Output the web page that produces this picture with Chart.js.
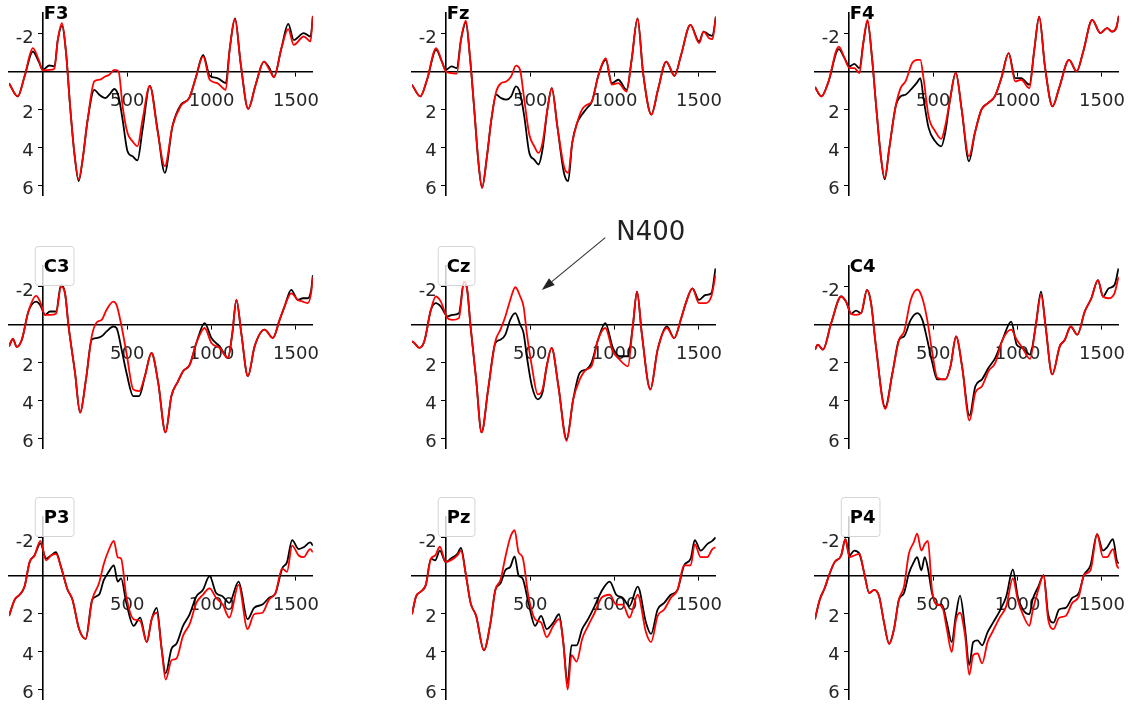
<!DOCTYPE html>
<html>
<head>
<meta charset="utf-8">
<script src="https://cdn.jsdelivr.net/npm/chart.js@4/dist/chart.umd.min.js"></script>
<style>
  html, body { margin: 0; padding: 0; background: #fff; }
  body { width: 1138px; height: 706px; overflow: hidden; position: relative; }
  canvas { position: absolute; }
</style>
</head>
<body>
<script>
// ERP averages, time in ms, amplitude in microvolts (negative up)
const F3_t = [-200,-148,-108,-59,-24,0,39,69,89,114,138,162,187,213,236,266,305,335,370,394,424,449,473,502,532,561,591,634,680,723,768,818,867,906,950,989,1034,1084,1107,1139,1172,1217,1261,1310,1343,1369,1414,1454,1487,1546,1586,1600];
const F3_black = [0.6,1.3,0.25,-1.07,-0.54,-0.1,-0.33,-0.28,-1.68,-2.42,-1.0,1.82,4.28,5.77,4.63,2.53,0.95,1.21,1.39,1.21,0.91,1.3,2.53,4.19,4.46,4.67,3.05,0.74,3.05,5.33,2.88,1.74,1.39,0.33,-0.89,0.21,0.33,0.6,-1.16,-2.82,-0.46,1.96,0.68,-0.54,-0.19,0.28,-1.25,-2.53,-1.68,-2.04,-1.86,-2.91];
const F3_red = [0.6,1.3,0.25,-1.25,-0.63,-0.07,-0.1,-0.16,-1.68,-2.56,-1.0,1.82,4.28,5.68,4.63,2.53,0.51,0.42,0.25,0.16,-0.1,-0.02,1.82,3.23,3.67,3.93,2.53,0.74,3.14,4.98,2.88,1.79,1.39,0.33,-0.81,0.42,0.6,0.95,-1.16,-2.77,-0.46,1.96,0.68,-0.54,-0.1,0.28,-1.25,-2.25,-1.42,-1.86,-1.6,-2.95];

const Fz_t = [-200,-151,-111,-57,-23,0,35,65,90,119,143,172,192,215,244,270,299,328,358,387,416,440,465,495,524,549,573,602,628,661,700,725,749,778,807,837,866,905,948,983,1022,1071,1101,1136,1169,1218,1257,1306,1355,1394,1449,1501,1527,1560,1580,1600];
const Fz_black = [0.68,1.3,0.42,-1.16,-0.54,-0.1,-0.28,-0.19,-1.68,-2.6,-0.81,2.35,4.63,6.12,4.46,2.53,1.21,1.39,1.47,1.3,0.77,1.12,2.35,4.28,4.63,4.89,4.1,2.0,0.86,2.88,5.33,5.77,3.75,2.7,2.26,1.91,1.56,0.16,-0.63,0.6,0.42,0.95,-0.63,-2.82,0.07,2.26,0.95,-0.54,0.21,-0.89,-2.47,-1.6,-2.12,-1.95,-1.9,-2.91];
const Fz_red = [0.68,1.3,0.42,-1.25,-0.54,-0.02,0.07,0.1,-1.68,-2.7,-0.81,2.35,4.63,6.12,4.46,2.53,1.04,0.6,0.51,0.25,-0.32,-0.1,1.47,3.32,3.93,4.28,3.75,2.0,0.86,2.88,4.98,5.33,3.75,2.7,2.0,1.74,1.56,0.16,-0.72,0.68,0.6,1.04,-0.63,-2.82,0.07,2.26,0.95,-0.54,0.21,-0.89,-2.47,-1.51,-2.12,-1.77,-1.72,-2.91];

const F4_t = [-200,-162,-123,-59,-25,4,33,63,86,111,137,164,190,213,239,278,307,336,376,405,424,444,473,512,548,571,600,634,669,712,747,786,825,865,904,947,986,1021,1070,1099,1128,1162,1207,1246,1305,1350,1389,1442,1490,1530,1559,1584,1600];
const F4_black = [0.8,1.3,0.6,-1.19,-0.72,-0.28,-0.42,-0.19,-1.51,-2.65,-0.81,2.0,4.46,5.68,4.1,1.82,1.3,1.21,0.86,0.56,0.33,1.47,2.96,3.67,3.93,3.23,1.47,0.04,2.0,4.72,3.23,2.0,1.65,1.3,0.33,-0.98,0.33,0.33,0.68,-1.16,-2.91,-0.28,1.82,0.86,-0.63,-0.02,-1.07,-2.74,-2.04,-2.3,-2.12,-2.3,-2.95];
const F4_red = [0.8,1.3,0.6,-1.33,-0.72,-0.19,-0.19,0.07,-1.51,-2.74,-0.81,2.0,4.46,5.6,4.1,1.82,0.86,0.51,-0.46,-0.63,-0.63,0.42,2.35,3.14,3.54,2.88,1.47,0.04,2.0,4.46,3.23,2.0,1.65,1.3,0.33,-0.98,0.51,0.42,0.86,-1.16,-2.91,-0.28,1.82,0.86,-0.63,-0.02,-1.07,-2.74,-2.04,-2.3,-2.12,-2.3,-2.95];

const C3_t = [-200,-177,-154,-124,-85,-39,-16,14,43,79,108,132,152,191,221,256,290,319,349,378,418,437,467,496,536,571,605,644,684,727,762,802,831,871,910,959,999,1048,1097,1123,1147,1176,1215,1255,1314,1363,1403,1432,1472,1511,1541,1570,1590,1600];
const C3_black = [1.14,0.75,1.17,0.79,-0.7,-1.22,-1.05,-0.52,-0.7,-0.7,-2.1,-1.66,0,2.53,4.63,2.88,0.79,0.7,0.61,0.35,0.09,0.17,1.31,2.53,3.76,3.76,2.71,1.49,3.06,5.68,3.76,2.97,2.45,2.1,0.96,-0.09,0.7,1.14,1.75,0.44,-1.31,0.44,2.71,1.14,0.26,0.7,-0.26,-0.96,-1.84,-1.31,-1.4,-1.4,-1.84,-2.62];
const C3_red = [1.14,0.75,1.17,0.79,-0.7,-1.52,-1.22,-0.52,-0.52,-0.58,-2.0,-1.66,0,2.53,4.63,2.88,0.61,-0.12,-0.26,-0.79,-1.22,-1.05,0.09,1.49,3.41,3.5,2.71,1.49,3.06,5.68,3.76,2.97,2.45,2.1,0.96,0.17,0.96,1.22,1.75,0.44,-1.31,0.44,2.71,1.14,0.26,0.7,-0.26,-0.96,-1.66,-1.31,-1.22,-1.14,-1.7,-2.5];

const Cz_t = [-200,-186,-157,-127,-88,-59,-29,10,39,78,108,127,147,180,212,251,294,324,353,382,412,441,461,480,510,545,573,598,627,667,716,755,794,833,863,902,945,990,1030,1079,1108,1133,1161,1212,1255,1310,1353,1392,1422,1461,1500,1539,1573,1598];
const Cz_black = [0.87,0.96,1.22,0.87,-0.79,-1.14,-0.96,-0.44,-0.52,-0.61,-2.27,-1.84,0.09,2.88,5.68,3.41,0.96,0.79,0.52,-0.26,-0.61,0,0.44,1.66,3.23,3.93,3.58,2.19,1.22,3.23,6.03,3.93,2.53,2.36,2.01,0.79,-0.09,1.22,1.66,1.66,0.09,-1.75,0.44,3.41,1.31,0.09,0.7,-0.26,-1.14,-1.92,-1.31,-1.57,-1.66,-2.97];
const Cz_red = [0.87,0.96,1.22,0.87,-0.79,-1.49,-1.22,-0.35,-0.26,-0.35,-2.27,-1.84,0.09,2.88,5.68,3.41,0.87,0.26,-0.44,-1.31,-1.98,-1.49,-0.96,0.44,2.19,3.67,3.41,2.19,1.22,3.23,6.12,3.93,2.88,2.36,2.19,0.79,0.17,1.4,1.84,2.19,0.09,-1.75,0.44,3.41,1.31,0.17,0.7,-0.26,-1.14,-1.92,-1.14,-1.14,-1.49,-2.62];

const C4_t = [-200,-183,-153,-104,-45,-16,14,43,73,108,132,161,216,259,298,328,367,406,436,465,495,524,573,603,636,671,715,750,789,828,868,911,962,995,1029,1074,1107,1139,1166,1205,1250,1280,1315,1354,1398,1437,1476,1506,1539,1574,1598];
const C4_black = [1.31,1.05,1.31,-0.09,-1.49,-1.22,-0.58,-0.75,-0.61,-1.84,-1.14,1.14,4.35,2.53,0.79,0.61,-0.26,-0.61,-0.26,0.79,2.01,2.88,2.88,2.18,0.61,2.18,4.79,3.24,2.88,2.27,1.75,0.79,-0.17,1.05,1.22,1.57,0.09,-1.75,0.09,2.62,1.14,0.79,0.09,0.52,-0.7,-1.4,-2.36,-1.49,-1.92,-2.1,-2.97];
const C4_red = [1.31,1.05,1.31,-0.09,-1.49,-1.22,-0.58,-0.52,-0.61,-1.84,-1.14,1.14,4.43,2.53,0.79,0.35,-1.31,-1.86,-1.4,-0.26,1.49,2.79,2.88,2.18,0.61,2.18,5.05,3.58,3.24,2.44,2.01,0.79,0.26,0.79,1.22,1.8,0.09,-1.57,0.09,2.62,1.14,0.79,0.09,0.52,-0.7,-1.4,-2.36,-1.49,-1.4,-1.66,-2.53];

const P3_t = [-200,-166,-137,-108,-78,-49,-14,20,49,78,108,147,176,215,254,293,333,362,391,421,444,464,495,538,577,616,645,675,704,728,763,792,831,870,910,949,988,1027,1066,1105,1160,1213,1252,1301,1340,1379,1418,1447,1477,1516,1545,1584,1600];
const P3_black = [2.12,1.26,1.0,0.57,-0.72,-1.07,-1.71,-0.9,-1.07,-1.24,-0.47,0.74,1.26,2.81,3.33,1.26,1.0,0.22,-0.21,-0.55,0.31,0.14,1.43,2.64,2.21,3.5,2.29,1.69,3.84,5.14,3.84,3.59,2.64,2.03,1.09,0.74,0.02,0.91,1.09,1.43,0.31,2.29,1.69,1.52,1.17,0.91,-0.38,-0.72,-1.88,-1.41,-1.5,-1.76,-1.59];
const P3_red = [2.12,1.26,1.0,0.57,-0.72,-1.07,-1.84,-0.81,-1.07,-1.16,-0.47,0.74,1.26,2.81,3.33,1.26,0.4,-0.64,-1.36,-1.84,-0.98,-0.9,1.09,2.29,2.38,3.5,2.29,1.95,3.84,5.48,4.45,4.36,3.16,2.55,1.43,1.0,0.66,1.17,1.52,2.21,0.48,2.81,2.03,1.95,1.26,0.91,-0.38,-0.21,-1.59,-1.07,-0.98,-1.41,-1.24];

const Pz_t = [-200,-176,-147,-118,-88,-63,-35,0,29,69,90,118,147,180,226,265,294,324,353,382,408,431,455,490,529,565,598,637,671,696,722,745,775,808,843,882,922,971,1010,1049,1088,1137,1186,1216,1255,1294,1333,1373,1412,1451,1475,1510,1549,1579,1598];
const Pz_black = [2.03,1.09,0.83,0.48,-0.9,-0.81,-1.33,-0.72,-0.9,-1.16,-1.47,-0.12,1.43,2.12,3.93,2.47,0.74,0.4,-0.29,-0.47,-1.02,-0.03,0.14,1.43,2.64,2.12,2.81,2.47,2.03,3.5,5.66,3.67,3.67,2.81,2.29,1.6,0.83,0.31,1.0,1.17,1.6,0.57,2.47,3.07,1.78,1.43,1.0,0.74,-0.55,-0.9,-1.88,-1.33,-1.67,-1.84,-2.02];
const Pz_red = [2.03,1.09,0.83,0.48,-0.9,-1.07,-1.53,-0.72,-0.81,-1.07,-1.33,-0.12,1.43,2.12,3.93,2.47,0.74,0.22,-0.98,-2.02,-2.4,-1.24,-0.98,1.09,2.29,2.47,3.24,2.64,2.29,3.5,6.0,4.19,4.53,3.33,2.64,1.95,1.17,1.0,1.52,1.52,2.21,1.0,2.98,3.5,2.12,1.78,1.17,0.74,-0.55,-0.55,-1.67,-0.98,-0.98,-1.41,-1.5];

const P4_t = [-200,-172,-143,-113,-84,-45,-20,4,33,63,92,121,151,180,209,239,268,297,327,356,385,405,430,450,469,493,522,552,581,610,634,659,689,714,737,763,790,822,855,894,933,972,1001,1031,1070,1089,1123,1154,1181,1213,1246,1285,1324,1363,1393,1432,1471,1506,1530,1565,1588,1600];
const P4_black = [2.29,1.26,0.66,-0.12,-0.72,-1.07,-1.93,-1.07,-1.33,-1.16,-0.12,0.91,0.74,1.09,2.47,3.59,2.81,1.26,0.91,-0.12,-0.72,-0.98,-0.29,-0.98,-0.38,0.91,1.52,1.52,2.47,3.5,2.12,1.05,2.81,4.71,3.5,3.41,3.67,2.98,2.47,1.86,1.09,-0.33,1.09,1.78,2.03,1.26,0.57,-0.03,2.03,2.47,1.78,1.69,1.17,0.91,-0.03,-0.55,-2.19,-1.33,-1.5,-1.93,-0.81,-0.64];
const P4_red = [2.29,1.26,0.66,-0.12,-0.72,-1.07,-1.93,-0.98,-1.07,-1.16,-0.12,0.91,0.74,1.09,2.47,3.59,2.81,1.26,0.57,-1.16,-1.76,-2.22,-1.33,-1.67,-1.84,0.74,1.52,1.6,2.81,4.02,2.38,1.95,3.16,5.22,4.19,4.1,4.62,3.5,2.9,2.21,1.6,0.14,1.26,2.03,2.64,1.86,0.74,-0.03,2.29,2.81,2.21,2.12,1.43,1.09,-0.03,-0.29,-2.19,-0.98,-0.98,-1.41,-0.55,-0.38];

const xTicks = [500, 1000, 1500];
const yTicks = [-2, 2, 4, 6];

const panels = [
  {name: 'F3', t: F3_t, black: F3_black, red: F3_red, col: 0, row: 0, box: false},
  {name: 'Fz', t: Fz_t, black: Fz_black, red: Fz_red, col: 1, row: 0, box: false},
  {name: 'F4', t: F4_t, black: F4_black, red: F4_red, col: 2, row: 0, box: false},
  {name: 'C3', t: C3_t, black: C3_black, red: C3_red, col: 0, row: 1, box: true},
  {name: 'Cz', t: Cz_t, black: Cz_black, red: Cz_red, col: 1, row: 1, box: true},
  {name: 'C4', t: C4_t, black: C4_black, red: C4_red, col: 2, row: 1, box: false},
  {name: 'P3', t: P3_t, black: P3_black, red: P3_red, col: 0, row: 2, box: true},
  {name: 'Pz', t: Pz_t, black: Pz_black, red: Pz_red, col: 1, row: 2, box: true},
  {name: 'P4', t: P4_t, black: P4_black, red: P4_red, col: 2, row: 2, box: true}
];

// where the zero crossing of each panel sits on the page
const colAxis = [42.5, 446.3, 849.3];
const rowZero = [72, 325, 576];

Chart.defaults.font.family = '"DejaVu Sans", sans-serif';
Chart.defaults.font.size = 18;
Chart.defaults.color = '#262626';

// channel name, matplotlib-legend style
const panelLabel = {
  id: 'panelLabel',
  afterDatasetsDraw(chart, args, opts) {
    const ctx = chart.ctx;
    const x0 = chart.scales.x.getPixelForValue(0);
    const top = chart.chartArea.top;
    ctx.save();
    ctx.font = 'bold 18px "DejaVu Sans"';
    const w = ctx.measureText(opts.text).width;
    if (opts.box) {
      ctx.beginPath();
      ctx.roundRect(x0 - 7.5, top - 19.5, w + 13, 39, 3);
      ctx.fillStyle = 'rgba(255,255,255,0.8)';
      ctx.fill();
      ctx.strokeStyle = '#d4d4d4';
      ctx.lineWidth = 1;
      ctx.stroke();
    }
    ctx.fillStyle = '#000';
    ctx.textBaseline = 'middle';
    ctx.fillText(opts.text, x0 + 1, top + 1);
    ctx.restore();
  }
};

// N400 arrow on Cz
const n400 = {
  id: 'n400',
  afterDraw(chart, args, opts) {
    if (!opts.text) return;
    const {x, y} = chart.scales;
    const ctx = chart.ctx;
    const fx = x.getPixelForValue(opts.from[0]), fy = y.getPixelForValue(opts.from[1]);
    const tx = x.getPixelForValue(opts.to[0]), ty = y.getPixelForValue(opts.to[1]);
    const ang = Math.atan2(ty - fy, tx - fx);
    const hl = 13, hw = 4.5;
    ctx.save();
    ctx.strokeStyle = '#333';
    ctx.lineWidth = 1.1;
    ctx.beginPath();
    ctx.moveTo(fx, fy);
    ctx.lineTo(tx - Math.cos(ang) * hl, ty - Math.sin(ang) * hl);
    ctx.stroke();
    ctx.fillStyle = '#222';
    ctx.beginPath();
    ctx.moveTo(tx, ty);
    ctx.lineTo(tx - Math.cos(ang) * hl - Math.sin(ang) * hw, ty - Math.sin(ang) * hl + Math.cos(ang) * hw);
    ctx.lineTo(tx - Math.cos(ang) * hl + Math.sin(ang) * hw, ty - Math.sin(ang) * hl - Math.cos(ang) * hw);
    ctx.closePath();
    ctx.fill();
    ctx.font = '26px "DejaVu Sans"';
    ctx.fillStyle = '#222';
    ctx.textBaseline = 'alphabetic';
    ctx.fillText(opts.text, x.getPixelForValue(opts.textAt[0]), y.getPixelForValue(opts.textAt[1]));
    ctx.restore();
  }
};

const padL = 10, padT = 60, padR = 20, padB = 20;
const yMin = -3.1, yMax = 6.5;

panels.forEach(p => {
  const cv = document.createElement('canvas');
  const w = padL + 306 + padR;
  const h = Math.round(padT + 19 * (yMax - yMin) + padB);
  cv.width = w; cv.height = h;
  cv.style.width = w + 'px'; cv.style.height = h + 'px';
  cv.style.left = Math.round(colAxis[p.col] - 34 - padL) + 'px';
  cv.style.top = Math.round(rowZero[p.row] + 19 * yMin - padT) + 'px';
  document.body.appendChild(cv);

  new Chart(cv.getContext('2d'), {
    type: 'line',
    data: {
      datasets: [{
        label: 'red',
        data: p.t.map((t, i) => ({x: t, y: p.red[i]})),
        borderColor: '#ff0000',
        borderWidth: 1.8,
        pointRadius: 0,
        cubicInterpolationMode: 'monotone',
        order: 1
      }, {
        label: 'black',
        data: p.t.map((t, i) => ({x: t, y: p.black[i]})),
        borderColor: '#000000',
        borderWidth: 1.8,
        pointRadius: 0,
        cubicInterpolationMode: 'monotone',
        order: 2
      }]
    },
    options: {
      responsive: false,
      animation: false,
      events: [],
      layout: {padding: {left: padL, top: padT, right: padR, bottom: padB}},
      plugins: {
        legend: {display: false},
        tooltip: {enabled: false},
        panelLabel: {text: p.name, box: p.box},
        n400: p.name === 'Cz' ? {text: 'N400', textAt: [1010, -4.47], from: [945, -4.6], to: [569, -1.84]} : {}
      },
      scales: {
        x: {
          type: 'linear',
          position: {y: 0},
          min: -200,
          max: 1600,
          afterBuildTicks: s => { s.ticks = xTicks.map(v => ({value: v})); },
          ticks: {padding: 15, maxRotation: 0, autoSkip: false, callback: v => String(v)},
          grid: {display: true, drawOnChartArea: false, tickLength: 4, color: '#000'},
          border: {display: true, color: '#000', width: 1.6}
        },
        y: {
          type: 'linear',
          position: {x: 0},
          reverse: true,
          min: yMin,
          max: yMax,
          afterBuildTicks: s => { s.ticks = yTicks.map(v => ({value: v})); },
          // label sits right-aligned on the axis, the en space keeps it clear of the line
          ticks: {labelOffset: 4, autoSkip: false, callback: v => String(v) + '\u2002'},
          grid: {display: true, drawOnChartArea: false, tickLength: 4, color: '#000'},
          border: {display: true, color: '#000', width: 1.6}
        }
      }
    },
    plugins: [panelLabel, n400]
  });
});
</script>
</body>
</html>
